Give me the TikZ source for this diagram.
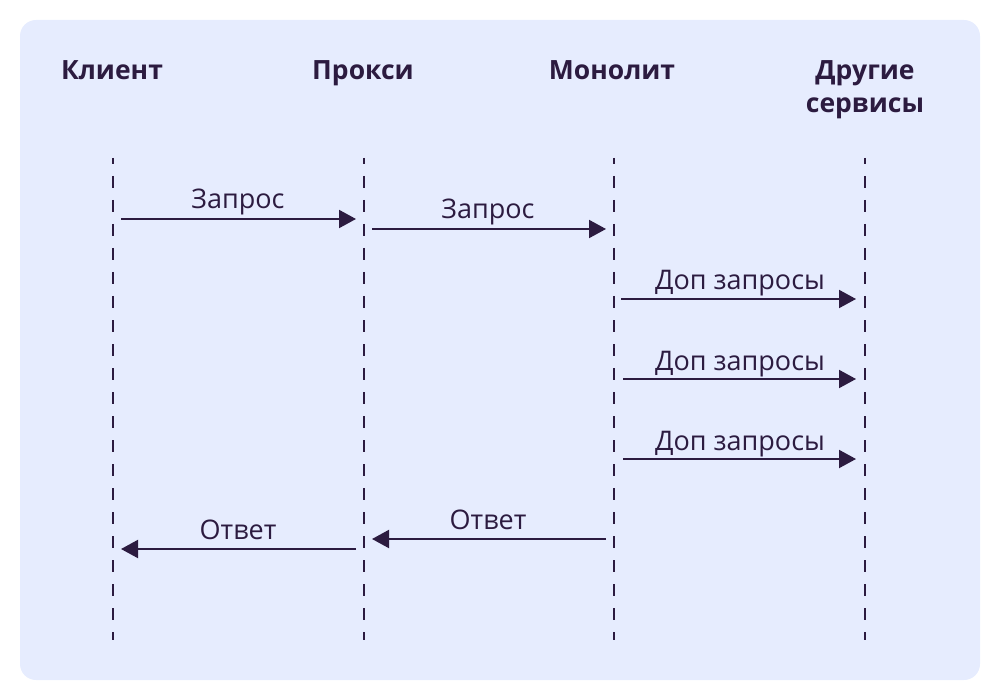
\documentclass[tikz,border=0pt]{standalone}
\usepackage{fontspec}
\setmainfont{Open Sans}
\usetikzlibrary{arrows.meta}
\definecolor{bgblue}{HTML}{E6ECFE}
\definecolor{ink}{HTML}{2C1B40}
\tikzset{
  hdr/.style={font=\fontsize{26.5}{33}\selectfont\bfseries, text=ink, align=center, inner sep=0pt, anchor=base},
  lbl/.style={font=\fontsize{27}{30}\selectfont, text=ink, inner sep=0pt, anchor=base},
  life/.style={draw=ink, line width=2pt, dash pattern=on 12pt off 12pt, dash phase=6pt},
  msg/.style={draw=ink, line width=2pt, -{Triangle[length=17pt,width=18pt]}},
}
\begin{document}
\begin{tikzpicture}[x=1pt,y=-1pt]
\useasboundingbox (0,0) rectangle (1000,700);
\fill[bgblue, rounded corners=16pt] (20,20) rectangle (980,680);
% headers
\node[hdr] (hk) at (112,80) {Клиент};
\node[hdr] (hp) at (363,80) {Прокси};
\node[hdr] (hm) at (612,80) {Монолит};
\node[hdr] (hd) at (865,80) {Другие};
\node[hdr] (hd2) at (865,113) {сервисы};
% lifelines
\coordinate (k1) at (113,158); \coordinate (k2) at (113,640);
\coordinate (p1) at (364,158); \coordinate (p2) at (364,640);
\coordinate (m1) at (614,158); \coordinate (m2) at (614,640);
\coordinate (d1) at (865,158); \coordinate (d2) at (865,640);
\draw[life] (k1) -- (k2);
\draw[life] (p1) -- (p2);
\draw[life] (m1) -- (m2);
\draw[life] (d1) -- (d2);
% message endpoints
\coordinate (a1s) at (121,219); \coordinate (a1e) at (356,219);
\coordinate (a2s) at (372,229); \coordinate (a2e) at (606,229);
\coordinate (a3s) at (621,299); \coordinate (a3e) at (856,299);
\coordinate (a4s) at (623,379); \coordinate (a4e) at (856,379);
\coordinate (a5s) at (623,459); \coordinate (a5e) at (856,459);
\coordinate (a6s) at (606,539); \coordinate (a6e) at (372,539);
\coordinate (a7s) at (356,549); \coordinate (a7e) at (121,549);
\draw[msg] (a1s) -- (a1e);
\draw[msg] (a2s) -- (a2e);
\draw[msg] (a3s) -- (a3e);
\draw[msg] (a4s) -- (a4e);
\draw[msg] (a5s) -- (a5e);
\draw[msg] (a6s) -- (a6e);
\draw[msg] (a7s) -- (a7e);
\node[lbl] (l1) at (238,209) {Запрос};
\node[lbl] (l2) at (488,219) {Запрос};
\node[lbl] (l3) at (740,290) {Доп запросы};
\node[lbl] (l4) at (740,370) {Доп запросы};
\node[lbl] (l5) at (740,450) {Доп запросы};
\node[lbl] (l6) at (488,529) {Ответ};
\node[lbl] (l7) at (238,539) {Ответ};
\end{tikzpicture}
\end{document}
